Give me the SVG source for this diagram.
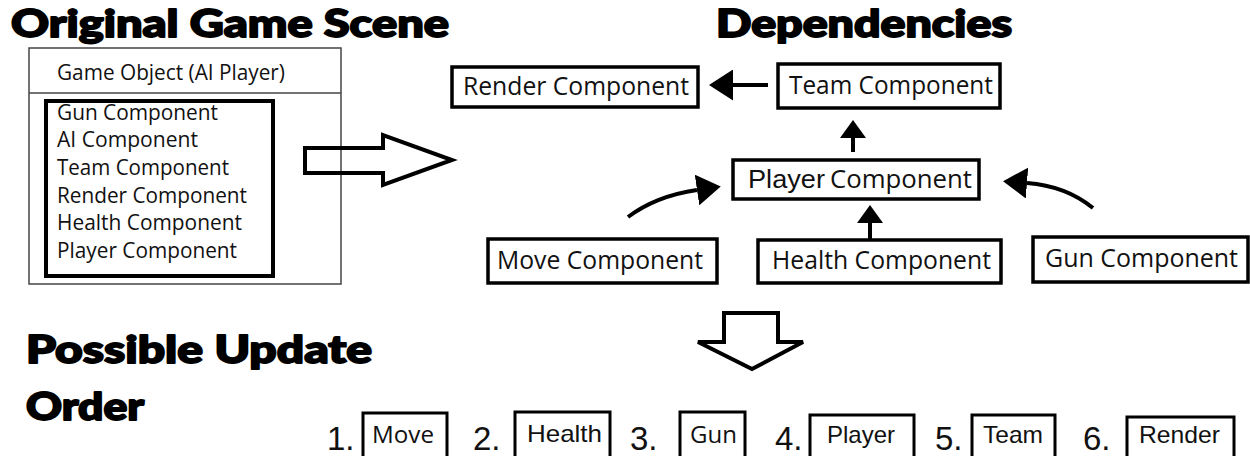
<svg xmlns="http://www.w3.org/2000/svg" width="1250" height="456" viewBox="0 0 1250 456">
  <style>
    .title { font-family: "Lato", "Inter", "Liberation Sans", sans-serif; font-weight: 900; font-size: 37px; fill: #000; stroke: #000; stroke-width: 1.8; stroke-linejoin: round; }
    .hum { font-family: "Open Sans", "Noto Sans", sans-serif; fill: #111; }
    .ari { font-family: "Liberation Sans", Arial, sans-serif; fill: #111; }
    .list { font-size: 21px; }
    .dep { font-size: 25px; }
    .box { fill: #fff; stroke: #000; stroke-width: 3.5; }
    .obox { fill: #fff; stroke: #000; stroke-width: 3; }
    .num { font-size: 33px; }
    .lbl { font-size: 24px; }
    .conn { fill: none; stroke: #000; stroke-width: 4; }
    .hollow { fill: none; stroke: #000; stroke-width: 4; stroke-linejoin: miter; }
  </style>
  <defs>
    <marker id="head" markerUnits="userSpaceOnUse" markerWidth="24" markerHeight="31" viewBox="0 0 24 31" refX="0" refY="15.5" orient="auto">
      <path d="M0,0 L24,15.5 L0,31 Z" fill="#000"/>
    </marker>
    <marker id="headSm" markerUnits="userSpaceOnUse" markerWidth="18" markerHeight="26" viewBox="0 0 18 26" refX="0" refY="13" orient="auto">
      <path d="M0,0 L18,13 L0,26 Z" fill="#000"/>
    </marker>
  </defs>

  <!-- headings -->
  <text class="title" x="11" y="37" textLength="438" lengthAdjust="spacingAndGlyphs">Original Game Scene</text>
  <text class="title" x="716" y="37" textLength="296" lengthAdjust="spacingAndGlyphs">Dependencies</text>
  <text class="title" x="26" y="363" font-size="40" textLength="346" lengthAdjust="spacingAndGlyphs">Possible Update</text>
  <text class="title" x="26" y="420" font-size="40" textLength="118" lengthAdjust="spacingAndGlyphs">Order</text>

  <!-- game object with its component list -->
  <g id="game-object">
    <rect x="29" y="48" width="312" height="236" fill="#fff" stroke="#444" stroke-width="1.5"/>
    <line x1="29" y1="93" x2="341" y2="93" stroke="#444" stroke-width="1.5"/>
    <text class="hum list" x="57" y="80" textLength="228" lengthAdjust="spacingAndGlyphs">Game Object (AI Player)</text>
    <rect x="46" y="101" width="227" height="175" fill="none" stroke="#000" stroke-width="4"/>
    <text class="hum list" x="57" y="120" textLength="161" lengthAdjust="spacingAndGlyphs">Gun Component</text>
    <text class="hum list" x="57" y="147" textLength="141" lengthAdjust="spacingAndGlyphs">AI Component</text>
    <text class="hum list" x="57" y="175" textLength="172" lengthAdjust="spacingAndGlyphs">Team Component</text>
    <text class="hum list" x="57" y="203" textLength="190" lengthAdjust="spacingAndGlyphs">Render Component</text>
    <text class="hum list" x="57" y="230" textLength="185" lengthAdjust="spacingAndGlyphs">Health Component</text>
    <text class="hum list" x="57" y="258" textLength="180" lengthAdjust="spacingAndGlyphs">Player Component</text>
  </g>

  <!-- dependency graph nodes -->
  <g id="render-component">
    <rect class="box" x="452" y="67" width="246" height="40"/>
    <text class="hum dep" x="463" y="95" textLength="226" lengthAdjust="spacingAndGlyphs">Render Component</text>
  </g>
  <g id="team-component">
    <rect class="box" x="778" y="64" width="222" height="44"/>
    <text class="hum dep" x="789" y="94" textLength="204" lengthAdjust="spacingAndGlyphs">Team Component</text>
  </g>
  <g id="player-component">
    <rect class="box" x="733" y="160" width="246" height="39"/>
    <text class="dep" x="748" y="188"><tspan class="ari" textLength="77" lengthAdjust="spacingAndGlyphs">Player</tspan><tspan class="hum" x="830" textLength="142" lengthAdjust="spacingAndGlyphs">Component</tspan></text>
  </g>
  <g id="move-component">
    <rect class="box" x="488" y="239" width="229" height="44"/>
    <text class="hum dep" x="497" y="269" textLength="206" lengthAdjust="spacingAndGlyphs">Move Component</text>
  </g>
  <g id="health-component">
    <rect class="box" x="758" y="240" width="243" height="43"/>
    <text class="hum dep" x="772" y="269" textLength="219" lengthAdjust="spacingAndGlyphs">Health Component</text>
  </g>
  <g id="gun-component">
    <rect class="box" x="1033" y="237" width="215" height="45"/>
    <text class="hum dep" x="1045" y="267" textLength="193" lengthAdjust="spacingAndGlyphs">Gun Component</text>
  </g>

  <!-- dependency connectors -->
  <g id="connectors">
    <path class="conn" d="M768,85 L733,85" marker-end="url(#head)"/>
    <path class="conn" d="M853,152 L853,138" marker-end="url(#headSm)"/>
    <path class="conn" d="M870,240 L870,223" marker-end="url(#headSm)"/>
    <path class="conn" d="M1093,208 Q1066,186 1027,183" marker-end="url(#head)"/>
    <path class="conn" d="M628,217 Q656,196 697,190" marker-end="url(#head)"/>
  </g>

  <!-- hollow flow arrows -->
  <g id="flow-arrows">
    <path class="hollow" d="M305,148 L383,148 L383,135 L452,160 L383,185 L383,173 L305,173 Z"/>
    <path class="hollow" stroke-width="3.5" d="M724,313 L778,313 L778,342 L803,342 L752,369 L698,342 L724,342 Z"/>
  </g>

  <!-- update order -->
  <g id="order-1">
    <text class="ari num" x="327" y="450">1.</text>
    <rect class="obox" x="363" y="413" width="84" height="50"/>
    <text class="hum lbl" x="372" y="443" textLength="62" lengthAdjust="spacingAndGlyphs">Move</text>
  </g>
  <g id="order-2">
    <text class="ari num" x="473" y="450">2.</text>
    <rect class="obox" x="515" y="412" width="95" height="50"/>
    <text class="ari lbl" x="527" y="442" textLength="75" lengthAdjust="spacingAndGlyphs">Health</text>
  </g>
  <g id="order-3">
    <text class="ari num" x="630" y="450">3.</text>
    <rect class="obox" x="680" y="412" width="65" height="50"/>
    <text class="hum lbl" x="690" y="443" textLength="47" lengthAdjust="spacingAndGlyphs">Gun</text>
  </g>
  <g id="order-4">
    <text class="ari num" x="775" y="450">4.</text>
    <rect class="obox" x="810" y="415" width="104" height="50"/>
    <text class="ari lbl" x="827" y="443" textLength="68" lengthAdjust="spacingAndGlyphs">Player</text>
  </g>
  <g id="order-5">
    <text class="ari num" x="935" y="450">5.</text>
    <rect class="obox" x="972" y="415" width="83" height="50"/>
    <text class="ari lbl" x="983" y="443" textLength="60" lengthAdjust="spacingAndGlyphs">Team</text>
  </g>
  <g id="order-6">
    <text class="ari num" x="1083" y="450">6.</text>
    <rect class="obox" x="1127" y="417" width="107" height="50" stroke-width="4"/>
    <text class="ari lbl" x="1139" y="443" textLength="81" lengthAdjust="spacingAndGlyphs">Render</text>
  </g>
</svg>
